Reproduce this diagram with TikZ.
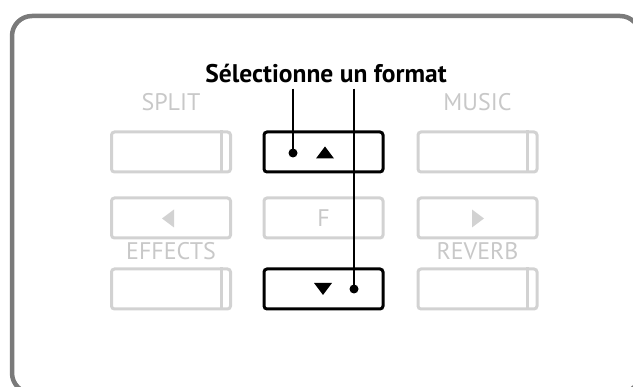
\documentclass[tikz,border=0pt]{standalone}
\usepackage{fontspec}
\setmainfont{PT Sans}
\definecolor{framegray}{HTML}{7A7A7A}
\definecolor{btngray}{HTML}{D2D2D2}
\definecolor{labelgray}{HTML}{C8C8C8}
\begin{document}
\begin{tikzpicture}[x=1pt,y=-1pt,
    graybtn/.style={draw=btngray, line width=3pt, rounded corners=3pt, minimum width=119pt, minimum height=40pt, inner sep=0pt},
    blackbtn/.style={graybtn, draw=black},
    graylabel/.style={text=labelgray, font=\fontsize{24}{24}\selectfont, inner sep=0pt, anchor=base}]
    \useasboundingbox (0,0) rectangle (633,387);
    \draw[framegray, line width=4.5pt, rounded corners=20pt] (12,16) rectangle (640,393);
    % title and the two pointers
    \node[font=\fontsize{25.5}{25.5}\selectfont\bfseries, anchor=base, inner sep=5pt] (title) at (326,83) {Sélectionne un format};
    % buttons, row by row
    \node[graybtn] (split) at (171,152) {};
    \node[blackbtn] (up) at (323.5,152) {};
    \node[graybtn] (music) at (477.5,152) {};
    \node[graybtn] (left) at (171,218) {};
    \node[graybtn] (f) at (323.5,218) {};
    \node[graybtn] (right) at (477.5,218) {};
    \node[graybtn] (effects) at (171,289) {};
    \node[blackbtn] (down) at (323.5,289) {};
    \node[graybtn] (reverb) at (477.5,289) {};
    \foreach \b in {split,music,effects,reverb}
        \draw[btngray, line width=3pt] ([xshift=-11pt]\b.north east) -- ([xshift=-11pt]\b.south east);
    % labels
    \node[graylabel] at (171,111) {SPLIT};
    \node[graylabel] at (477.5,111) {MUSIC};
    \node[graylabel] at (171,259.5) {EFFECTS};
    \node[graylabel] at (477.5,259.5) {REVERB};
    \node[graylabel] at (323.5,226.5) {F};
    % arrow marks
    \fill[btngray] (174,209.5) -- (174,227.5) -- (162,218.5) -- cycle;
    \fill[btngray] (472,209.5) -- (472,227.5) -- (484,218.5) -- cycle;
    \fill (316,158.5) -- (334,158.5) -- (325,146.5) -- cycle;
    \fill (314,283) -- (332,283) -- (323,295) -- cycle;
    \coordinate (updot) at (293,153);
    \coordinate (downdot) at (354,289);
    \fill (updot) circle (4.5pt) (downdot) circle (4.5pt);
    \draw[line width=1.4pt] (updot |- title.south) -- (updot);
    \draw[line width=1.4pt] (downdot |- title.south) -- (downdot);
\end{tikzpicture}
\end{document}
